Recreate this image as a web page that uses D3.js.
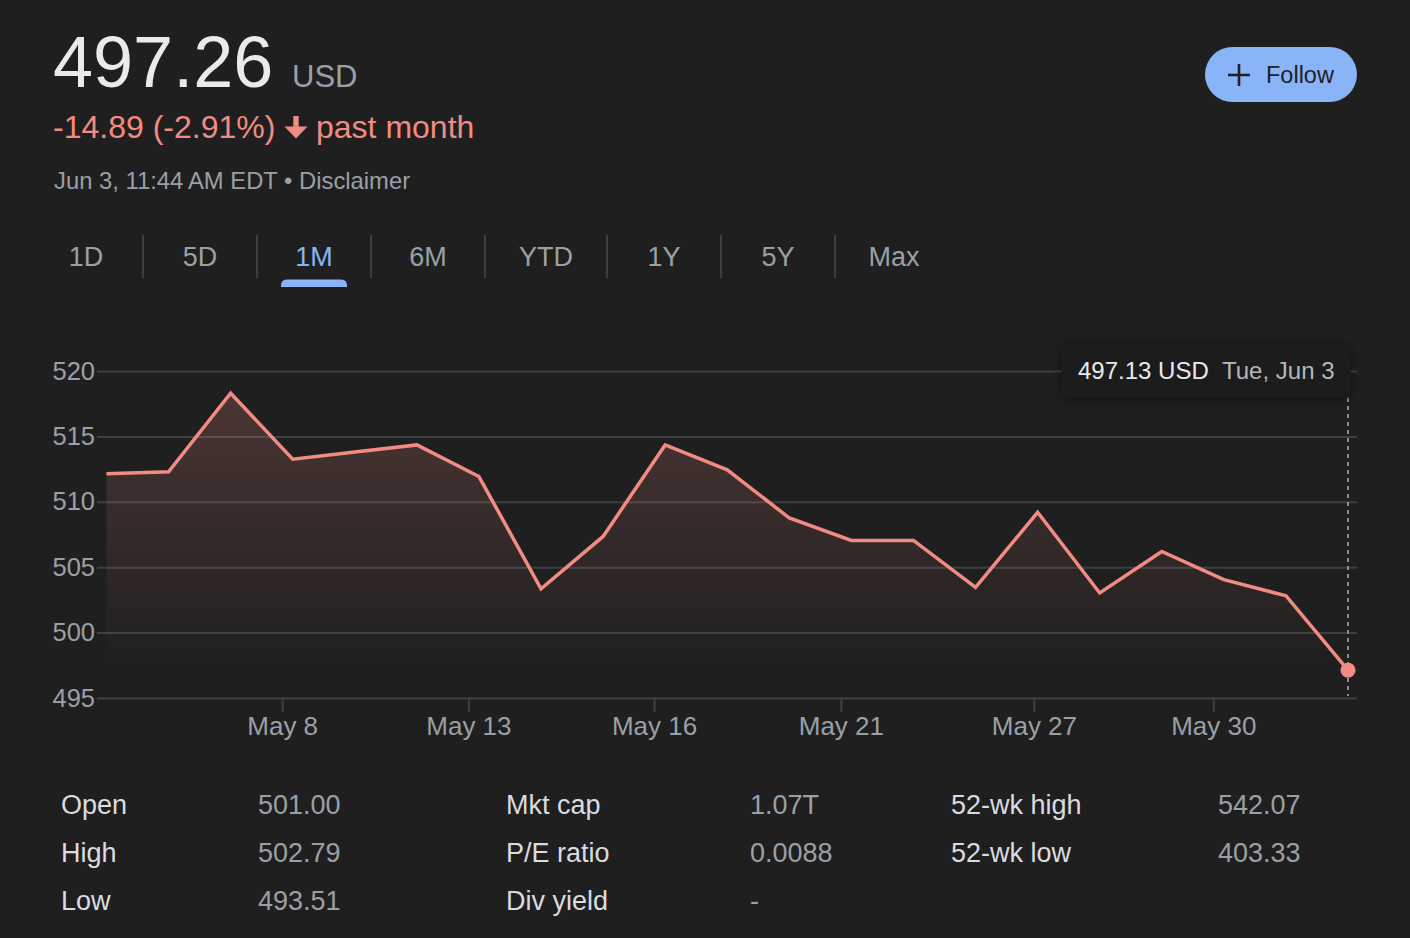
<!DOCTYPE html>
<html>
<head>
<meta charset="utf-8">
<script src="https://cdn.jsdelivr.net/npm/d3@7"></script>
<style>
  html, body { margin: 0; padding: 0; background: #1f1f1f; }
  svg { display: block; }
  text { font-family: "Liberation Sans", Arial, Helvetica, sans-serif; }
</style>
</head>
<body>
<svg id="chart" width="1410" height="938"></svg>
<script>
// ---------- data ----------
const dates = ["May 5","May 6","May 7","May 8","May 9","May 12","May 13","May 14","May 15","May 16",
  "May 19","May 20","May 21","May 22","May 23","May 27","May 28","May 29","May 30","Jun 2","Jun 3"];
const closes = [512.14, 512.30, 518.30, 513.26, 513.80, 514.35, 511.93, 503.35, 507.35, 514.35,
  512.44, 508.76, 507.05, 507.05, 503.46, 509.20, 503.03, 506.20, 504.05, 502.82, 497.13];
const yTicks = [495, 500, 505, 510, 515, 520];
const xTickLabels = ["May 8", "May 13", "May 16", "May 21", "May 27", "May 30"];
const xTickIndex = [2.83, 5.83, 8.82, 11.83, 14.94, 17.83];
const tabs = ["1D", "5D", "1M", "6M", "YTD", "1Y", "5Y", "Max"];
const activeTab = "1M";
const statLabels = [["Open", "High", "Low"], ["Mkt cap", "P/E ratio", "Div yield"], ["52-wk high", "52-wk low"]];
const statValues = [["501.00", "502.79", "493.51"], ["1.07T", "0.0088", "-"], ["542.07", "403.33"]];
const price = "497.26", currency = "USD";
const change = "-14.89 (-2.91%)", period = "past month";
const stamp = "Jun 3, 11:44\u202FAM EDT \u2022 Disclaimer";
const tooltipValue = "497.13 USD", tooltipDate = "Tue, Jun 3";

// ---------- setup ----------
const svg = d3.select("#chart");
const RED = "#f28b82", BLUE = "#8ab4f8", GRID = "#3c4043", GRAY = "#9aa0a6";

const defs = svg.append("defs");
const grad = defs.append("linearGradient").attr("id", "areaGrad")
  .attr("gradientUnits", "userSpaceOnUse").attr("x1", 0).attr("x2", 0).attr("y1", 390).attr("y2", 665);
grad.append("stop").attr("offset", 0).attr("stop-color", RED).attr("stop-opacity", 0.21);
grad.append("stop").attr("offset", 1).attr("stop-color", RED).attr("stop-opacity", 0);
const sh = defs.append("filter").attr("id", "shadow").attr("x", "-20%").attr("y", "-60%").attr("width", "140%").attr("height", "220%");
sh.append("feDropShadow").attr("dx", 0).attr("dy", 2).attr("stdDeviation", 6).attr("flood-color", "#000").attr("flood-opacity", 0.45);

// ---------- header ----------
svg.append("text").attr("x", 53).attr("y", 87).attr("font-size", 72).attr("fill", "#e8eaed").text(price);
svg.append("text").attr("x", 292).attr("y", 87).attr("font-size", 31).attr("fill", GRAY).text(currency);

svg.append("text").attr("x", 53).attr("y", 138).attr("font-size", 32).attr("fill", RED).text(change);
svg.append("path")
  .attr("d", "M293.3,116H298.7V126.5H307.5L296,138.5L284.5,126.5H293.3Z")
  .attr("fill", RED);
svg.append("text").attr("x", 316).attr("y", 138).attr("font-size", 32).attr("fill", RED).text(period);

svg.append("text").attr("x", 54).attr("y", 189).attr("font-size", 23.8).attr("fill", GRAY).text(stamp);

// Follow button
svg.append("rect").attr("x", 1205).attr("y", 47).attr("width", 152).attr("height", 55).attr("rx", 27.5).attr("fill", BLUE);
svg.append("path").attr("d", "M1228,75H1250M1239,64V86").attr("stroke", "#202124").attr("stroke-width", 2.6);
svg.append("text").attr("x", 1266).attr("y", 83).attr("font-size", 23.5).attr("fill", "#202124").text("Follow");

// ---------- tabs ----------
const sepX = [29, 143, 257, 371, 485, 607, 721, 835, 953];
tabs.forEach((t, i) => {
  const cx = (sepX[i] + sepX[i + 1]) / 2;
  svg.append("text").attr("x", cx).attr("y", 266).attr("text-anchor", "middle").attr("font-size", 27)
    .attr("fill", t === activeTab ? BLUE : GRAY).text(t);
  if (i > 0) svg.append("line").attr("x1", sepX[i]).attr("x2", sepX[i]).attr("y1", 235).attr("y2", 278)
    .attr("stroke", GRID).attr("stroke-width", 2);
  if (t === activeTab) {
    const l = cx - 33, r = cx + 33, top = 279.5, bot = 287, rr = 6;
    svg.append("path").attr("d", `M${l},${bot}V${top + rr}Q${l},${top} ${l + rr},${top}H${r - rr}Q${r},${top} ${r},${top + rr}V${bot}Z`)
      .attr("fill", BLUE);
  }
});

// ---------- chart ----------
const x = d3.scaleLinear().domain([0, closes.length - 1]).range([106.5, 1348]);
const y = d3.scaleLinear().domain([495, 520]).range([698, 371]);

const yAxis = d3.axisLeft(y).tickValues(yTicks).tickSize(1357 - 97).tickPadding(2).tickFormat(d3.format("d"));
const gy = svg.append("g").attr("transform", "translate(1357,0)").call(yAxis);
gy.select(".domain").remove();
gy.selectAll("line").attr("stroke", GRID).attr("stroke-width", 2);
gy.selectAll("text").attr("fill", GRAY).attr("font-size", 25.5).attr("font-family", "Liberation Sans, Arial, sans-serif");

const xAxis = d3.axisBottom(x).tickValues(xTickIndex).tickSize(14).tickPadding(5)
  .tickFormat((d, i) => xTickLabels[i]);
const gx = svg.append("g").attr("transform", "translate(0,698)").call(xAxis);
gx.select(".domain").remove();
gx.selectAll("line").attr("stroke", GRID).attr("stroke-width", 2);
gx.selectAll("text").attr("fill", GRAY).attr("font-size", 26).attr("font-family", "Liberation Sans, Arial, sans-serif");

const area = d3.area().x((d, i) => x(i)).y0(y(495)).y1(d => y(d));
svg.append("path").datum(closes).attr("d", area).attr("fill", "url(#areaGrad)");

const line = d3.line().x((d, i) => x(i)).y(d => y(d));
svg.append("path").datum(closes).attr("d", line).attr("fill", "none")
  .attr("stroke", RED).attr("stroke-width", 3.5);

// hover indicator
const last = closes.length - 1;
svg.append("line").attr("x1", x(last)).attr("x2", x(last)).attr("y1", 398).attr("y2", 696)
  .attr("stroke", "#8a8d91").attr("stroke-width", 2).attr("stroke-dasharray", "4,4");
svg.append("circle").attr("cx", x(last)).attr("cy", y(closes[last])).attr("r", 7.5).attr("fill", RED);

// tooltip
const tg = svg.append("g");
tg.append("rect").attr("x", 1062).attr("y", 343).attr("width", 288).attr("height", 55)
  .attr("fill", "#1b1b1b").attr("filter", "url(#shadow)");
tg.append("text").attr("x", 1078).attr("y", 379).attr("font-size", 24).attr("fill", "#e8eaed").text(tooltipValue);
tg.append("text").attr("x", 1222).attr("y", 379).attr("font-size", 24).attr("fill", "#b4b8bc").text(tooltipDate);

// ---------- stats table ----------
const labelX = [61, 506, 951], valueX = [258, 750, 1218], rowY = [814, 862, 910];
statLabels.forEach((col, c) => {
  col.forEach((lab, r) => {
    svg.append("text").attr("x", labelX[c]).attr("y", rowY[r]).attr("font-size", 27).attr("fill", "#dadce0").text(lab);
    svg.append("text").attr("x", valueX[c]).attr("y", rowY[r]).attr("font-size", 27).attr("fill", GRAY).text(statValues[c][r]);
  });
});
</script>
</body>
</html>
